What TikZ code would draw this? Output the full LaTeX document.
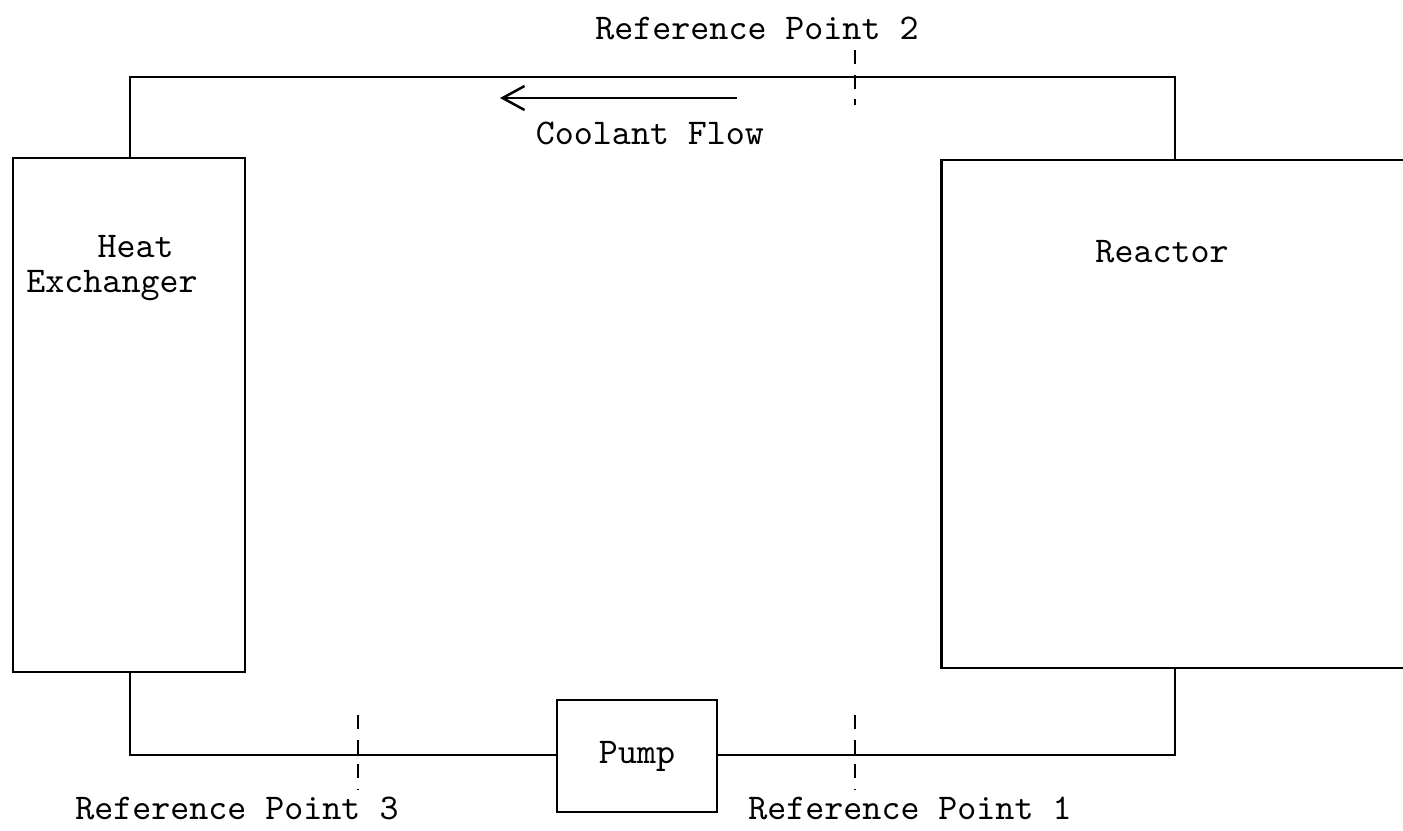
\documentclass[tikz,border=0pt]{standalone}
\usepackage{fontspec}
\usetikzlibrary{positioning, arrows.meta, calc}

\begin{document}
\begin{tikzpicture}[
    unit/.style={rectangle, draw, line width=0.8pt, inner sep=0pt, font=\ttfamily\fontsize{10.3pt}{12pt}\selectfont, align=center},
    pipe/.style={line width=0.7pt},
    refmark/.style={line width=0.5pt, dash pattern=on 4pt off 3pt},
    lbl/.style={font=\ttfamily\fontsize{10.3pt}{10pt}\selectfont, align=center},
    flow/.style={-{Straight Barb[length=2.2mm, width=2.4mm]}, line width=0.7pt},
  ]
    \useasboundingbox (0,0) rectangle (14.03,8.30);
    \clip (0,0) rectangle (14.03,8.30);

    \node[unit, minimum width=2.32cm, minimum height=5.14cm] (hx) at (1.29,4.15) {};
    \node[lbl] (hxlbl) at (1.12,5.62) {\hspace{1.3em}Heat\\Exchanger};
    \node[unit, minimum width=4.9cm, minimum height=5.08cm, anchor=west] (rx) at (9.40,4.16) {};
    \node[lbl] (rxlbl) at (11.62,5.78) {Reactor};
    \node[unit, minimum width=1.60cm, minimum height=1.12cm] (pump) at (6.37,0.74) {Pump};

    % pipe corners
    \coordinate (tl) at (1.30,7.53);
    \coordinate (tr) at (11.75,7.53);
    \coordinate (bl) at (1.30,0.75);
    \coordinate (br) at (11.75,0.75);

    \draw[pipe] (hx.north -| tl) -- (tl) -- (tr) -- (rx.north -| tr);
    \draw[pipe] (hx.south -| bl) -- (bl) -- (pump.west |- bl);
    \draw[pipe] (pump.east |- br) -- (br) -- (rx.south -| br);

    % reference points
    \coordinate (r2a) at (8.55,7.80);
    \coordinate (r2b) at (8.55,7.25);
    \coordinate (r3a) at (3.58,1.15);
    \coordinate (r3b) at (3.58,0.40);
    \coordinate (r1a) at (8.55,1.15);
    \coordinate (r1b) at (8.55,0.40);
    \draw[refmark] (r2a) -- (r2b);
    \draw[refmark] (r3a) -- (r3b);
    \draw[refmark] (r1a) -- (r1b);
    \node[lbl] (ref2) at (7.57,8.02) {Reference Point 2};
    \node[lbl] (ref3) at (2.37,0.22) {Reference Point 3};
    \node[lbl] (ref1) at (9.10,0.22) {Reference Point 1};

    % flow direction
    \coordinate (fa) at (7.37,7.32);
    \coordinate (fb) at (5.00,7.32);
    \draw[flow] (fa) -- (fb);
    \node[lbl] (flowlbl) at (6.50,6.97) {Coolant Flow};
\end{tikzpicture}
\end{document}
